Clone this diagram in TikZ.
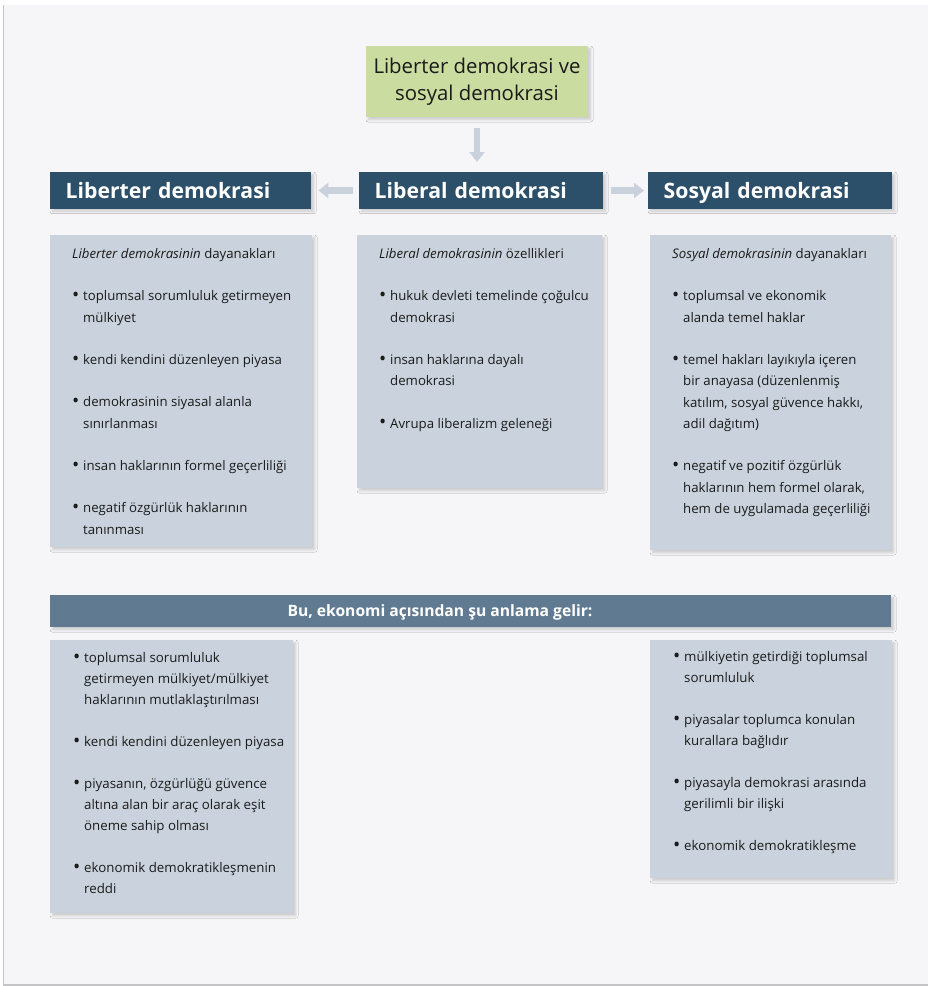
\documentclass[tikz,border=0pt]{standalone}
\usepackage{fontspec}
\setmainfont{Open Sans}
\usetikzlibrary{arrows.meta,shadows.blur,calc}
\definecolor{panelc}{HTML}{F6F6F8}
\definecolor{edgec}{HTML}{C4C4C6}
\definecolor{greenc}{HTML}{CBDCA0}
\definecolor{hdrc}{HTML}{2C5069}
\definecolor{boxc}{HTML}{CAD3DD}
\definecolor{bannerc}{HTML}{5F7A91}
\definecolor{arrc}{HTML}{C9D2DC}
\definecolor{txtc}{HTML}{1A1A1A}
\newcommand\myb{\makebox[11pt][l]{\raisebox{-0.6pt}{\scalebox{1.45}{•}}}}
\newcommand\myi{\hspace*{11pt}}
\newcommand\mystrut{\rule{0pt}{12pt}}
\newcommand\mycalib[4]{%
  \setbox0\hbox{#2\fontsize{10}{12}\selectfont #3}%
  \pgfmathsetmacro#1{10*#4/\the\wd0}}
\AtBeginDocument{%
\mycalib{\szA}{}{toplumsal sorumluluk getirmeyen}{208}%
\mycalib{\szB}{}{kendi kendini düzenleyen piyasa}{200}%
\mycalib{\szH}{\bfseries}{Liberter demokrasi}{203}%
\mycalib{\szT}{}{Liberter demokrasi ve}{207}%
\mycalib{\szN}{\bfseries}{Bu, ekonomi açısından şu anlama gelir:}{305}%
\pgfmathsetmacro\capH{0.714*\szH}%
\pgfmathsetmacro\capN{0.714*\szN}%
}
\begin{document}
\begin{tikzpicture}[x=1pt,y=-1pt,
  shad/.style={blur shadow={shadow xshift=2.5pt,shadow yshift=-2.5pt,shadow blur radius=2.5pt,shadow blur steps=6,shadow opacity=18}},
  hdr/.style={shad,fill=hdrc,text=white,font=\bfseries\fontsize{\szH}{\szH}\selectfont,
    inner xsep=15.5pt,inner ysep=0pt,minimum height=36.5pt,text width=#1,align=left,
    text height=\capH pt,text depth=0pt,anchor=north west},
  boxn/.style={shad,fill=boxc,inner sep=0pt,anchor=north west},
  bodyA/.style={text=txtc,inner sep=0pt,anchor=north west,align=left,font=\fontsize{\szA}{21.3}\selectfont},
  bodyB/.style={text=txtc,inner sep=0pt,anchor=north west,align=left,font=\fontsize{\szB}{21}\selectfont},
  arr/.style={draw=arrc,line width=6.5pt,-{Triangle[width=15pt,length=10pt]}}]
\useasboundingbox (0,0) rectangle (928,986);
\fill[white] (0,0) rectangle (928,986);
\fill[edgec] (3,5) rectangle (928,986);
\fill[panelc] (4,5) rectangle (928,984);
% title
\node[shad,fill=greenc,text=txtc,minimum width=222pt,minimum height=71pt,inner sep=0pt,
  align=center,font=\fontsize{\szT}{27}\selectfont] (g) at (477,81.5) {Liberter demokrasi ve\\sosyal demokrasi};
% headers
\node[hdr=230pt] (lbt) at (50,172) {Liberter demokrasi};
\node[hdr=213pt] (lib) at (359,172) {Liberal demokrasi};
\node[hdr=213pt] (sos) at (648,172) {Sosyal demokrasi};
% arrows
\draw[arr,shorten <=11pt,shorten >=10pt,xshift=-4pt] (g.south) -- (g.south |- lib.north);
\draw[arr,shorten <=6pt,shorten >=7pt] (lib.west) -- (lbt.east);
\draw[arr,shorten <=8pt,shorten >=4pt] (lib.east) -- (sos.west);
% upper boxes
\node[boxn,minimum width=262pt,minimum height=312pt] (b1) at (50,235) {};
\node[boxn,minimum width=245pt,minimum height=253pt] (b2) at (357,235) {};
\node[boxn,minimum width=241pt,minimum height=315pt] (b3) at (650,235) {};
\node[bodyA] (t1) at (72,246.4) {\mystrut\textit{Liberter demokrasinin} dayanakları\\[21pt]
\myb toplumsal sorumluluk getirmeyen\\
\myi mülkiyet\\[21pt]
\myb kendi kendini düzenleyen piyasa\\[21pt]
\myb demokrasinin siyasal alanla\\
\myi sınırlanması\\[21pt]
\myb insan haklarının formel geçerliliği\\[21pt]
\myb negatif özgürlük haklarının\\
\myi tanınması};
\node[bodyA] (t2) at (379,246.4) {\mystrut\textit{Liberal demokrasinin} özellikleri\\[21pt]
\myb hukuk devleti temelinde çoğulcu\\
\myi demokrasi\\[21pt]
\myb insan haklarına dayalı\\
\myi demokrasi\\[21pt]
\myb Avrupa liberalizm geleneği};
\node[bodyA] (t3) at (672,246.4) {\mystrut\textit{Sosyal demokrasinin} dayanakları\\[21pt]
\myb toplumsal ve ekonomik\\
\myi alanda temel haklar\\[21pt]
\myb temel hakları layıkıyla içeren\\
\myi bir anayasa (düzenlenmiş\\
\myi katılım, sosyal güvence hakkı,\\
\myi adil dağıtım)\\[21pt]
\myb negatif ve pozitif özgürlük\\
\myi haklarının hem formel olarak,\\
\myi hem de uygulamada geçerliliği};
% banner
\node[shad,fill=bannerc,minimum width=841pt,minimum height=32pt,inner sep=0pt,anchor=north west] (ban) at (50,595) {};
\node[text=white,inner sep=0pt,font=\bfseries\fontsize{\szN}{\szN}\selectfont,text height=\capN pt,text depth=0pt] (bant) at (440,610.5) {Bu, ekonomi açısından şu anlama gelir:};
% lower boxes
\node[boxn,minimum width=243pt,minimum height=273pt] (b4) at (50,640) {};
\node[boxn,minimum width=242pt,minimum height=238pt] (b5) at (650,640) {};
\node[bodyB] (t4) at (73,650.4) {\mystrut\myb toplumsal sorumluluk\\
\myi getirmeyen mülkiyet/mülkiyet\\
\myi haklarının mutlaklaştırılması\\[21pt]
\myb kendi kendini düzenleyen piyasa\\[21pt]
\myb piyasanın, özgürlüğü güvence\\
\myi altına alan bir araç olarak eşit\\
\myi öneme sahip olması\\[21pt]
\myb ekonomik demokratikleşmenin\\
\myi reddi};
\node[bodyB] (t5) at (673,649.5) {\mystrut\myb mülkiyetin getirdiği toplumsal\\
\myi sorumluluk\\[21pt]
\myb piyasalar toplumca konulan\\
\myi kurallara bağlıdır\\[21pt]
\myb piyasayla demokrasi arasında\\
\myi gerilimli bir ilişki\\[21pt]
\myb ekonomik demokratikleşme};
\end{tikzpicture}
\end{document}
